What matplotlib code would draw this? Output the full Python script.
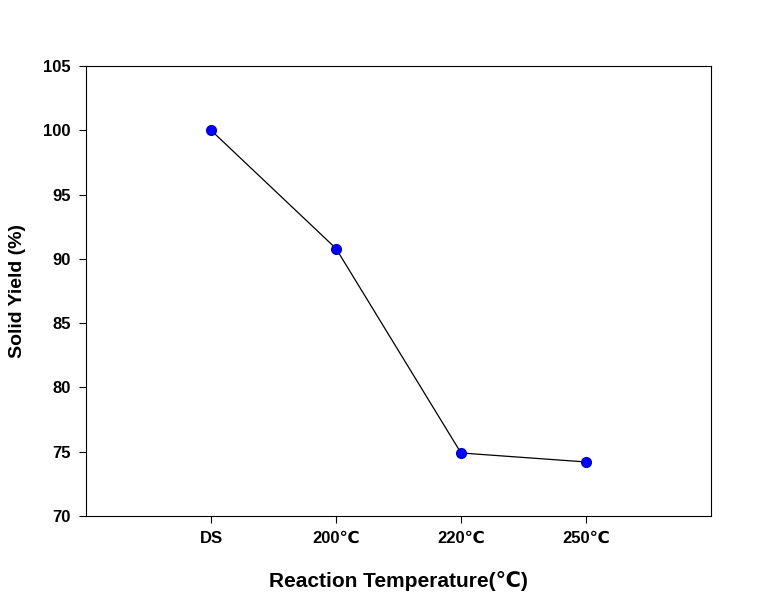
import matplotlib.pyplot as plt

# data
categories = ['DS', '200℃', '220℃', '250℃']
solid_yield = [100.0, 90.8, 74.9, 74.2]
y_ticks = [70, 75, 80, 85, 90, 95, 100, 105]

plt.rcParams['font.family'] = ['Liberation Sans', 'DejaVu Sans', 'Noto Sans CJK SC']
plt.rcParams['font.weight'] = 'bold'

fig = plt.figure(figsize=(7.7, 5.99), dpi=100)
ax = fig.add_axes([0.1117, 0.1386, 0.8117, 0.7513])

x = list(range(len(categories)))
ax.plot(x, solid_yield, color='black', linewidth=0.9, zorder=1)
ax.plot(x, solid_yield, linestyle='none', marker='o', markersize=7,
        markerfacecolor='#0000ff', markeredgecolor='#0000cc', zorder=2)

ax.set_xlim(-1, 4)
ax.set_ylim(70, 105)
ax.set_xticks(x)
ax.set_xticklabels(categories, fontsize=12, fontweight='bold')
ax.set_yticks(y_ticks)
ax.set_yticklabels([str(t) for t in y_ticks], fontsize=12, fontweight='bold')
ax.tick_params(direction='out', length=5, width=0.8, pad=6)

ax.set_xlabel('Reaction Temperature(℃)', fontsize=15, fontweight='bold', labelpad=18)
ax.set_ylabel('Solid Yield (%)', fontsize=14, fontweight='bold', labelpad=12)

for s in ax.spines.values():
    s.set_linewidth(0.8)

plt.savefig('out.png', dpi=100)
